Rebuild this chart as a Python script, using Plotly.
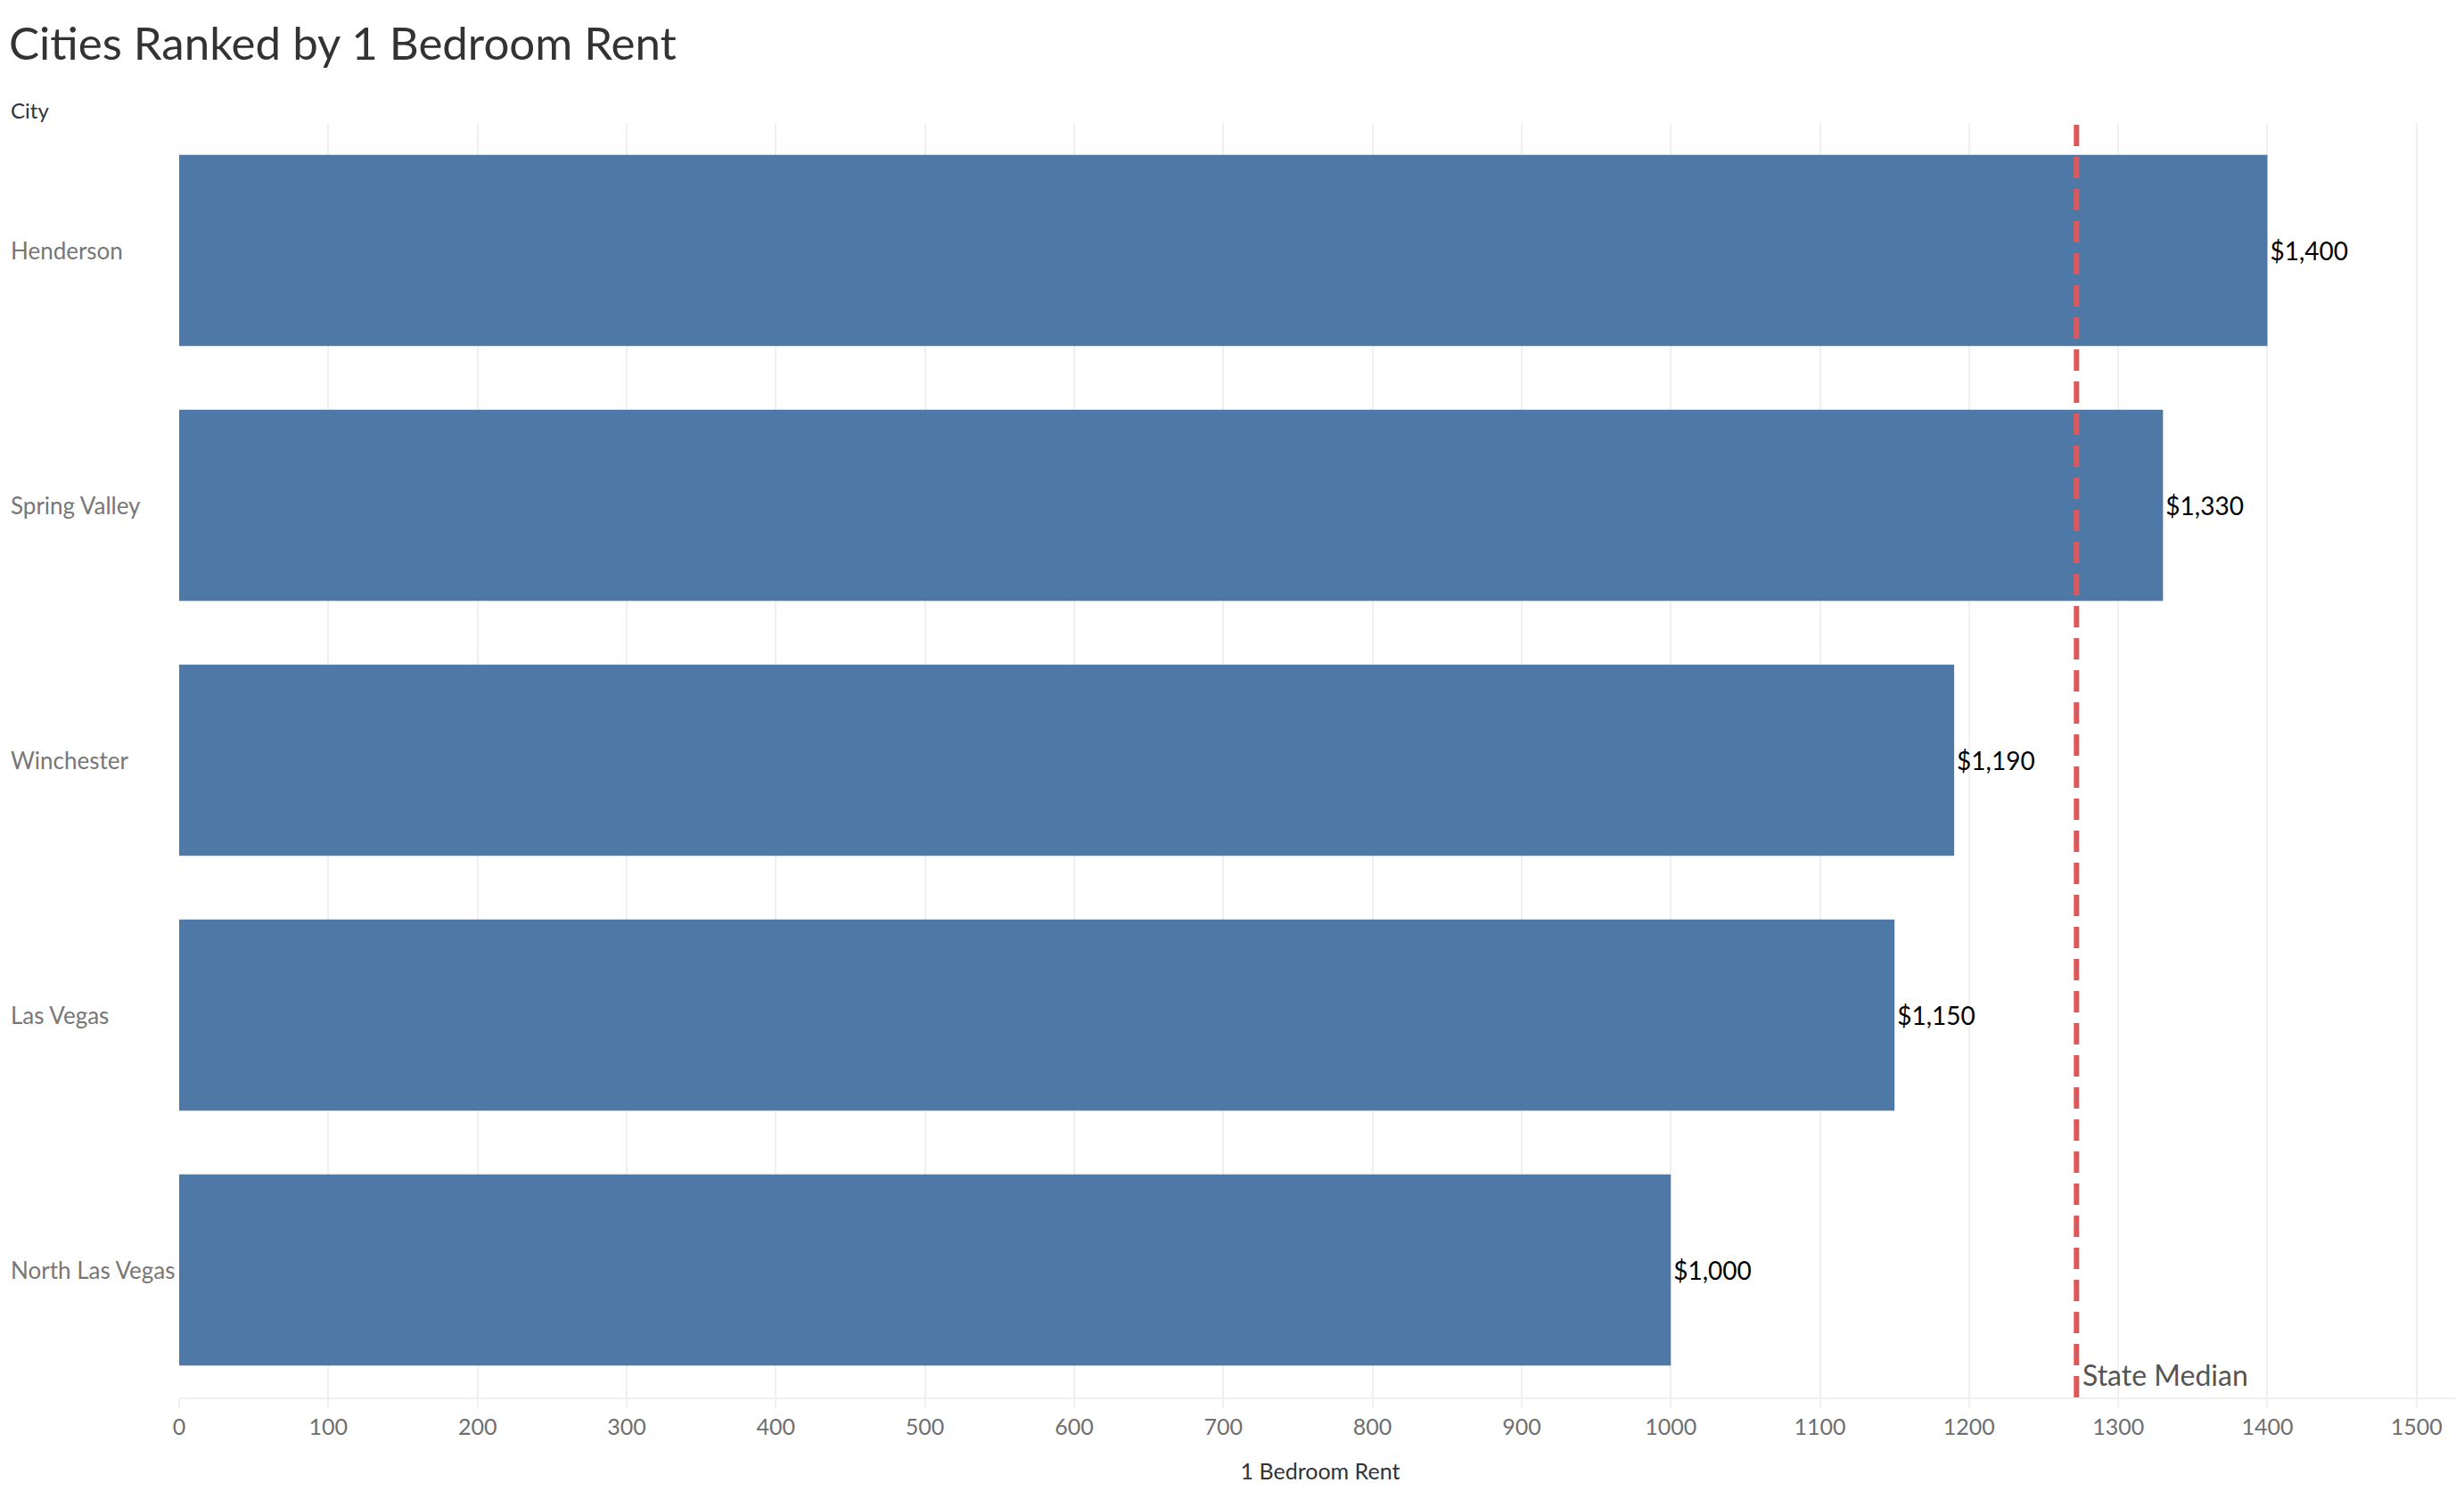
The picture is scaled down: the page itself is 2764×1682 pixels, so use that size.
import plotly.graph_objects as go

# data
cities = ["Henderson", "Spring Valley", "Winchester", "Las Vegas", "North Las Vegas"]
rent_1br = [1400, 1330, 1190, 1150, 1000]
state_median = 1272
x_ticks = list(range(0, 1600, 100))

# the page body has an 8px margin, so the figure is made 8px smaller
OFF = 8
W, H = 2764 - OFF, 1682 - OFF
ML, MR, MT, MB = 201 - OFF, 3, 138 - OFF, 114
plot_w = W - ML - MR
plot_h = H - MT - MB

font_name = "Lato"

bars = go.Bar(
    x=rent_1br,
    y=cities,
    orientation="h",
    marker=dict(color="#4e79a7", line=dict(width=0)),
    text=["$" + format(v, ",") for v in rent_1br],
    textposition="outside",
    textfont=dict(family=font_name, size=28, color="#000000"),
    cliponaxis=False,
    hoverinfo="x+y",
)

fig = go.Figure(data=[bars])

# city names, left aligned like the original
label_x = -(ML - (10 - OFF)) / plot_w
for c in cities:
    fig.add_annotation(
        x=label_x, xref="paper", xanchor="left",
        y=c, yref="y", yanchor="middle",
        text=c, showarrow=False,
        font=dict(family=font_name, size=26, color="#777777"),
    )

fig.add_annotation(
    x=label_x, xref="paper", xanchor="left",
    y=1 + (MT - (123 - OFF)) / plot_h, yref="paper", yanchor="middle",
    text="City", showarrow=False,
    font=dict(family=font_name, size=24, color="#333333"),
)

# state median reference line
fig.add_shape(
    type="line", x0=state_median, x1=state_median, xref="x",
    y0=0, y1=1, yref="paper",
    line=dict(color="#e15759", width=6, dash="24px,12px"),
)
fig.add_annotation(
    x=state_median, xref="x", xanchor="left", xshift=5,
    y=0, yref="paper", yanchor="bottom", yshift=4,
    text="State Median", showarrow=False,
    font=dict(family=font_name, size=32, color="#555555"),
)

fig.update_layout(
    width=W, height=H,
    margin=dict(l=ML, r=MR, t=MT, b=MB),
    paper_bgcolor="white", plot_bgcolor="white",
    showlegend=False,
    bargap=0.25,
    title=dict(
        text="Cities Ranked by 1 Bedroom Rent",
        xref="container", x=(10 - OFF) / W, xanchor="left",
        yref="container", y=1 - (49 - OFF) / H, yanchor="middle",
        font=dict(family=font_name, size=51, color="#333333"),
    ),
    xaxis=dict(
        range=[0, 1530],
        tickvals=x_ticks,
        ticktext=[str(t) for t in x_ticks],
        showgrid=True, gridcolor="#f0f0f0", gridwidth=2,
        zeroline=False,
        showline=True, linecolor="#f0f0f0", linewidth=2,
        ticks="outside", ticklen=10, tickcolor="#f0f0f0", tickwidth=2,
        tickfont=dict(family=font_name, size=25, color="#6e6e6e"),
        title=dict(text="1 Bedroom Rent", standoff=28,
                   font=dict(family=font_name, size=25, color="#333333")),
    ),
    yaxis=dict(
        categoryorder="array", categoryarray=cities,
        autorange="reversed",
        showticklabels=False, showgrid=False, zeroline=False,
        ticks="",
    ),
)

fig.write_html("out.html")
